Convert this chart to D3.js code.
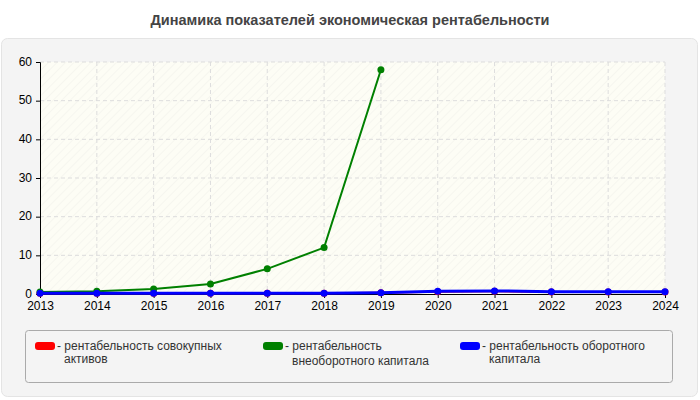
<!DOCTYPE html>
<html><head><meta charset="utf-8">
<script src="https://cdn.jsdelivr.net/npm/d3@7"></script>
<style>body{margin:0;font-family:"Liberation Sans",Arial,sans-serif;background:#fff}</style>
</head><body><div id="chart"></div>
<script>
var years = [2013,2014,2015,2016,2017,2018,2019,2020,2021,2022,2023,2024];
var assetsReturn = [0.2,0.2,0.2,0.2,0.2,0.2,0.3,0.6,0.7,0.5,0.5,0.5];
var fixedCapReturn = [0.5,0.7,1.3,2.6,6.5,12,58,null,null,null,null,null];
var workingCapReturn = [0.2,0.2,0.2,0.2,0.2,0.2,0.3,0.7,0.8,0.6,0.6,0.6];
var yTicks = [0,10,20,30,40,50,60];
var seriesColors = ["#ff0000","#008000","#0000ff"];
var legendLines = [["- рентабельность совокупных","активов"],["- рентабельность","внеоборотного капитала"],["- рентабельность оборотного","капитала"]];

var svg = d3.select("#chart").append("svg").attr("width",700).attr("height",400);
var defs = svg.append("defs");
var pat = defs.append("pattern").attr("id","hatch").attr("width",6).attr("height",6)
  .attr("patternUnits","userSpaceOnUse").attr("patternTransform","rotate(45)");
pat.append("rect").attr("width",6).attr("height",6).attr("fill","#fdfdf5");
pat.append("line").attr("x1",0).attr("y1",0).attr("x2",0).attr("y2",6).attr("stroke","#f0f0ea").attr("stroke-width",1);

svg.append("text").attr("x",350).attr("y",25).attr("text-anchor","middle")
  .attr("font-size",14.5).attr("font-weight","bold").attr("fill","#444").text("Динамика показателей экономическая рентабельности");
svg.append("rect").attr("x",1.5).attr("y",38.5).attr("width",696).attr("height",358).attr("rx",6)
  .attr("fill","#f4f4f4").attr("stroke","#e4e4e4");

var x = d3.scalePoint().domain(years).range([40,665]);
var y = d3.scaleLinear().domain([0,60]).range([294,62]);

svg.append("rect").attr("x",40).attr("y",62).attr("width",625).attr("height",232).attr("fill","url(#hatch)");
var g = svg.append("g");
g.selectAll(".gy").data(yTicks.slice(1)).enter().append("line")
  .attr("x1",40).attr("x2",665).attr("y1",d=>y(d)).attr("y2",d=>y(d))
  .attr("stroke","#ddd").attr("stroke-dasharray","4,3");
g.selectAll(".gx").data(years.slice(1)).enter().append("line")
  .attr("x1",d=>x(d)).attr("x2",d=>x(d)).attr("y1",62).attr("y2",294)
  .attr("stroke","#ddd").attr("stroke-dasharray","4,3");

var yAxis = svg.append("g").attr("transform","translate(40,0)")
  .call(d3.axisLeft(y).tickValues(yTicks).tickSize(4).tickFormat(d3.format("d")));
var xAxis = svg.append("g").attr("transform","translate(0,294)")
  .call(d3.axisBottom(x).tickSize(4).tickFormat(d3.format("d")));
[xAxis,yAxis].forEach(a=>{a.selectAll("text").attr("font-size",12).attr("fill","#000")
  .attr("font-family","Liberation Sans, Arial"); a.selectAll("path,line").attr("stroke","#000");});
yAxis.selectAll("text").attr("dx",-1).attr("dy","0.25em");

[assetsReturn,fixedCapReturn,workingCapReturn].forEach(function(s,i){
  var pts = years.map((yr,j)=>[yr,s[j]]).filter(p=>p[1]!=null);
  svg.append("path").datum(pts).attr("fill","none").attr("stroke",seriesColors[i])
    .attr("stroke-width",i==2?3:2)
    .attr("d",d3.line().x(p=>x(p[0])).y(p=>y(p[1])));
  svg.selectAll(null).data(pts).enter().append("circle")
    .attr("cx",p=>x(p[0])).attr("cy",p=>y(p[1])).attr("r",3.5).attr("fill",seriesColors[i]);
});

svg.append("rect").attr("x",25.5).attr("y",330.5).attr("width",647).attr("height",52).attr("rx",3)
  .attr("fill","#f4f4f4").attr("stroke","#aaa");
var lx = [35,263,460];
legendLines.forEach(function(l,i){
  svg.append("rect").attr("x",lx[i]).attr("y",342).attr("width",20).attr("height",8).attr("rx",3)
    .attr("fill",seriesColors[i]);
  var t = svg.append("text").attr("x",lx[i]+22).attr("y",350).attr("font-size",12).attr("fill","#333");
  t.append("tspan").text(l[0]);
  t.append("tspan").attr("x",lx[i]+29).attr("dy",i==1?15:13).text(l[1]);
});
</script></body></html>
